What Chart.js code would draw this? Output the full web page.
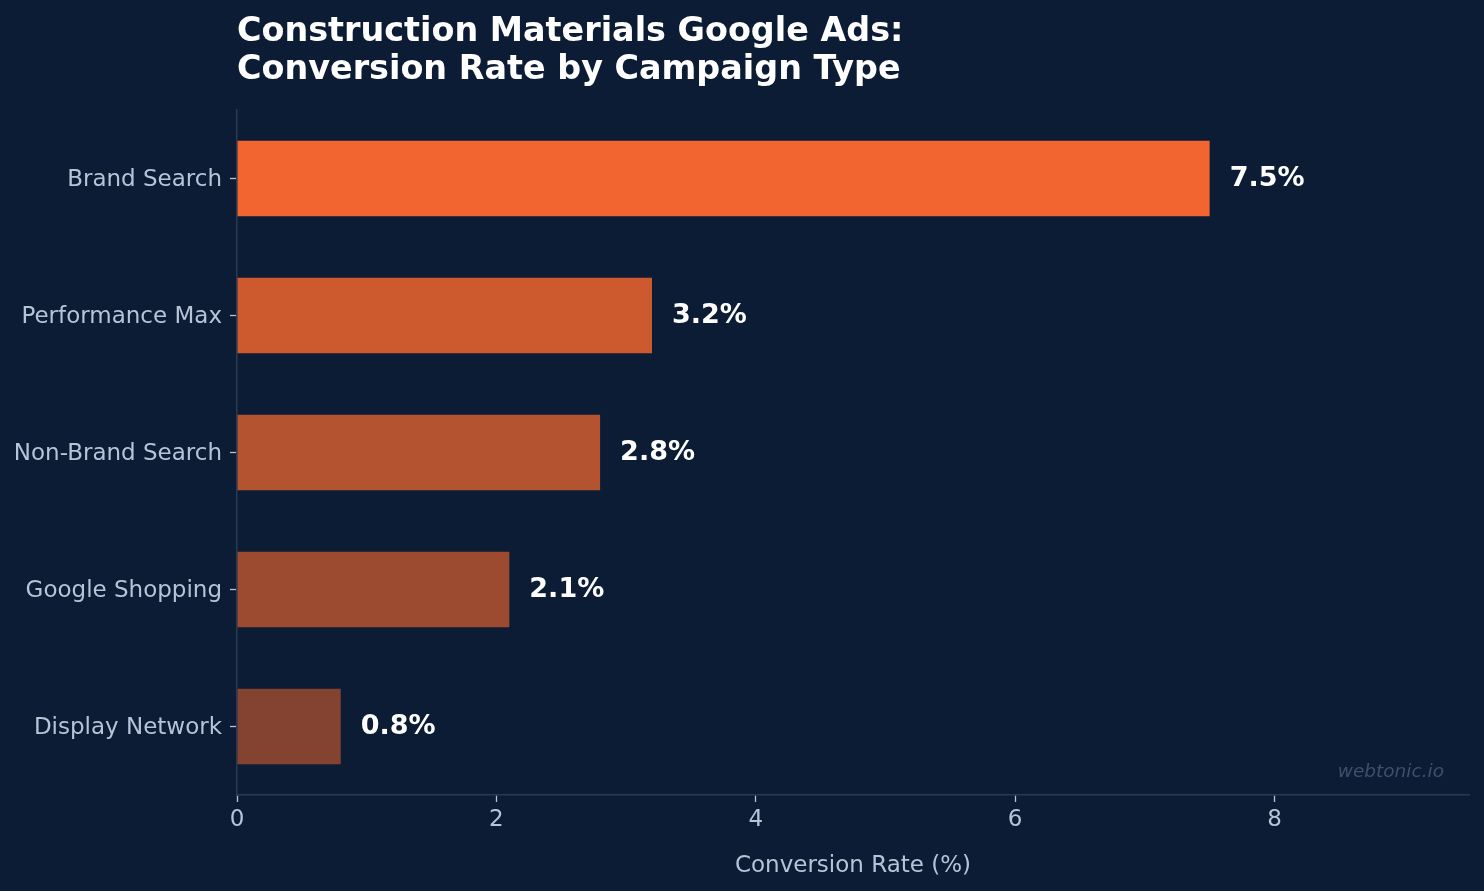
<!DOCTYPE html>
<html>
<head>
<meta charset="utf-8">
<title>Conversion Rate by Campaign Type</title>
<script src="https://cdn.jsdelivr.net/npm/chart.js@4.4.1/dist/chart.umd.min.js"></script>
<style>
  html, body { margin: 0; padding: 0; background: #0b1c34; }
  canvas { display: block; }
</style>
</head>
<body>
<canvas id="convChart" width="1484" height="891"></canvas>
<script>
// campaign types, top to bottom
const campaigns = ['Brand Search', 'Performance Max', 'Non-Brand Search', 'Google Shopping', 'Display Network'];
const convRates = [7.5, 3.2, 2.8, 2.1, 0.8];
const barColors = ['#f26530', '#cd5a2e', '#b45330', '#9d4b30', '#844331'];
const xTicks = [0, 2, 4, 6, 8];
const titleLines = ['Construction Materials Google Ads:', 'Conversion Rate by Campaign Type'];

const BG = '#0b1c34';
const TEXT = '#b8c4d6';
const SPINE = '#2a3a55';
const FONT = "'DejaVu Sans', sans-serif";

// background, title, value labels, watermark
const extras = {
  id: 'extras',
  beforeDraw(chart) {
    const ctx = chart.ctx;
    ctx.save();
    ctx.fillStyle = BG;
    ctx.fillRect(0, 0, chart.width, chart.height);
    ctx.restore();
  },
  afterDatasetsDraw(chart) {
    const ctx = chart.ctx;
    const area = chart.chartArea;
    ctx.save();

    // title, left aligned with the plot
    ctx.fillStyle = '#ffffff';
    ctx.font = 'bold 33.4px ' + FONT;
    ctx.textAlign = 'left';
    ctx.textBaseline = 'alphabetic';
    ctx.fillText(titleLines[0], area.left, 41);
    ctx.fillText(titleLines[1], area.left, 79);

    // value labels after each bar
    const meta = chart.getDatasetMeta(0);
    ctx.font = 'bold 27px ' + FONT;
    ctx.textBaseline = 'middle';
    meta.data.forEach((bar, i) => {
      ctx.fillText(convRates[i].toFixed(1) + '%', bar.x + 20, bar.y);
    });

    // watermark
    ctx.fillStyle = '#3e4f6c';
    ctx.font = 'italic 18.5px ' + FONT;
    ctx.textAlign = 'right';
    ctx.textBaseline = 'alphabetic';
    ctx.fillText('webtonic.io', area.right - 25, 777);
    ctx.restore();
  }
};

const ctx = document.getElementById('convChart').getContext('2d');

new Chart(ctx, {
  type: 'bar',
  data: {
    labels: campaigns,
    datasets: [{
      data: convRates,
      backgroundColor: barColors,
      borderWidth: 0,
      barPercentage: 0.55,
      categoryPercentage: 1.0
    }]
  },
  options: {
    indexAxis: 'y',
    responsive: false,
    animation: false,
    layout: { padding: { top: 110, right: 15, left: 0, bottom: 0 } },
    plugins: {
      legend: { display: false },
      tooltip: { enabled: false }
    },
    scales: {
      x: {
        min: 0,
        max: 9.5,
        afterFit(scale) { scale.height = 96; },
        afterBuildTicks(scale) { scale.ticks = xTicks.map(v => ({ value: v })); },
        grid: {
          drawOnChartArea: false,
          drawTicks: true,
          tickLength: 7,
          tickWidth: 1.3,
          tickColor: TEXT
        },
        border: { display: true, color: SPINE, width: 1.5 },
        ticks: {
          color: TEXT,
          font: { family: FONT, size: 23 },
          padding: 4
        },
        title: {
          display: true,
          text: 'Conversion Rate (%)',
          color: TEXT,
          font: { family: FONT, size: 23 },
          padding: { top: 4, bottom: 11 }
        }
      },
      y: {
        afterFit(scale) { scale.width = 237; },
        grid: {
          offset: false,
          drawOnChartArea: false,
          drawTicks: true,
          tickLength: 7,
          tickWidth: 1.3,
          tickColor: TEXT
        },
        border: { display: true, color: SPINE, width: 1.5 },
        ticks: {
          color: TEXT,
          font: { family: FONT, size: 23 },
          padding: 8,
          labelOffset: 2
        }
      }
    }
  },
  plugins: [extras]
});
</script>
</body>
</html>
